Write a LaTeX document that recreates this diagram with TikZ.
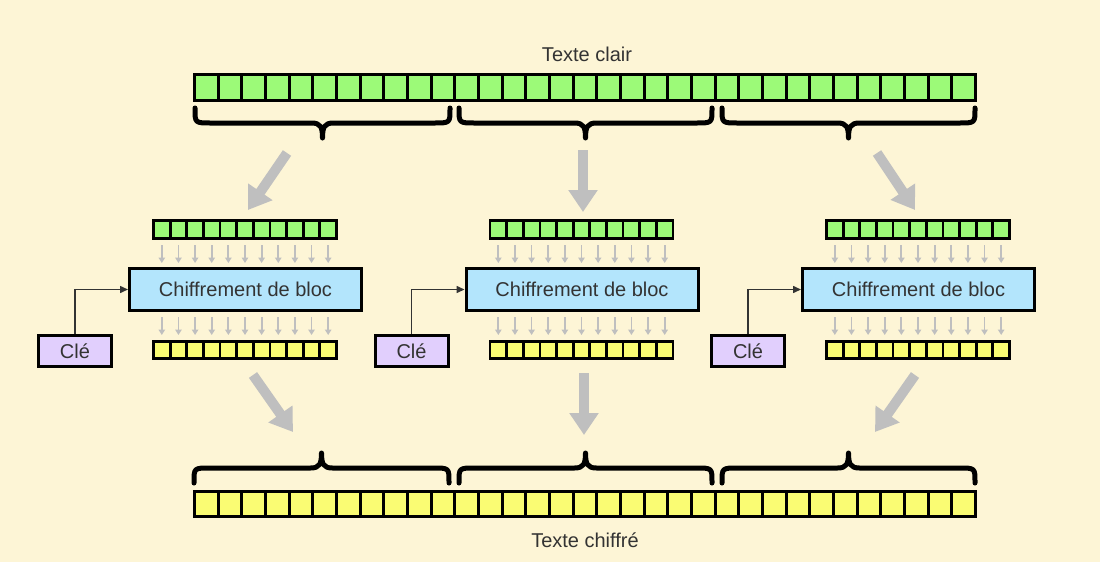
\documentclass[tikz,border=0pt]{standalone}
\usepackage{fontspec}
\setmainfont{Liberation Sans}
\usetikzlibrary{arrows.meta}
\definecolor{bg}{HTML}{FDF5D6}
\definecolor{cgreen}{HTML}{9CFA78}
\definecolor{cyellow}{HTML}{FAFC73}
\definecolor{cblue}{HTML}{B3E5FC}
\definecolor{cpurple}{HTML}{E1CFFD}
\definecolor{cgray}{HTML}{BFBFBF}
\definecolor{ctext}{HTML}{333333}
\tikzset{
  pics/hbrace/.style={code={
    \draw[line width=5pt,line join=round,line cap=round]
      (-#1,0) -- (-#1,1) .. controls (-#1,15) .. (-#1+16,15) -- (-11,15)
      .. controls (-2,15) and (0,19) .. (0,30)
      .. controls (0,19) and (2,15) .. (11,15) -- (#1-16,15)
      .. controls (#1,15) .. (#1,1) -- (#1,0);
  }}
}
\begin{document}
\begin{tikzpicture}[x=1pt,y=-1pt,
  barline/.style={draw=black,line width=3pt},
  sbarline/.style={draw=black,line width=2.8pt},
  lbl/.style={text=ctext,font=\fontsize{20}{24}\selectfont,inner sep=0pt},
  cipher/.style={draw=black,line width=3pt,fill=cblue,minimum width=232pt,minimum height=42pt,inner sep=0pt,text=ctext,font=\fontsize{20}{24}\selectfont},
  keybox/.style={draw=black,line width=3pt,fill=cpurple,minimum width=73pt,minimum height=31pt,inner sep=0pt,text=ctext,font=\fontsize{20}{24}\selectfont},
  bigarrow/.style={draw=cgray,line width=10pt,-{Triangle[width=28pt,length=22pt]}},
  smallarrow/.style={draw=cgray,line width=1.8pt,-{Triangle[width=6.5pt,length=5.5pt]}},
  keyline/.style={draw=ctext,line width=1.5pt,-{Triangle[width=7pt,length=8pt]}}
]
\useasboundingbox (0,0) rectangle (1100,562);
\fill[bg] (0,0) rectangle (1100,562);

% labels
\node[lbl,anchor=base] (tc) at (587,61) {Texte clair};
\node[lbl,anchor=base] (tch) at (585,547) {Texte chiffré};

% top plaintext bar
\filldraw[barline,fill=cgreen] (194.5,74.5) rectangle (975.5,100.5);
\foreach \i in {1,...,32}{
  \draw[barline] ({194.5+\i*23.6667},74.5) -- ({194.5+\i*23.6667},100.5);
}
% bottom ciphertext bar
\filldraw[barline,fill=cyellow] (194.5,491.5) rectangle (975.5,516.5);
\foreach \i in {1,...,32}{
  \draw[barline] ({194.5+\i*23.6667},491.5) -- ({194.5+\i*23.6667},516.5);
}

% braces
\pic at (322.5,108) {hbrace=127.5};
\pic at (585.5,108) {hbrace=126.5};
\pic at (848.5,108) {hbrace=126.5};
\pic[yscale=-1] at (321.5,483) {hbrace=127.5};
\pic[yscale=-1] at (585.5,483) {hbrace=126.5};
\pic[yscale=-1] at (848.5,483) {hbrace=126.5};

% blocks
\foreach \k/\off in {1/0,2/336.5,3/673}{
  \begin{scope}[xshift=\off]
    \filldraw[sbarline,fill=cgreen] (153.5,220.5) rectangle (336.5,238.5);
    \filldraw[sbarline,fill=cyellow] (153.5,341.5) rectangle (336.5,358.5);
    \foreach \i in {1,...,10}{
      \draw[sbarline] ({153.5+\i*16.636},220.5) -- ({153.5+\i*16.636},238.5);
      \draw[sbarline] ({153.5+\i*16.636},341.5) -- ({153.5+\i*16.636},358.5);
    }
    \foreach \i in {0,...,10}{
      \draw[smallarrow] ({153.5+(\i+0.5)*16.636},245) -- ({153.5+(\i+0.5)*16.636},263);
      \draw[smallarrow] ({153.5+(\i+0.5)*16.636},317) -- ({153.5+(\i+0.5)*16.636},335);
    }
    \node[cipher] (c\k) at (245.5,289.5) {Chiffrement de bloc};
    \node[keybox] (k\k) at (75,351) {Clé};
    \draw[keyline] (k\k.north) |- (c\k.west);
  \end{scope}
}

% big arrows
\coordinate (a1s) at (287,153); \coordinate (a1e) at (248,210);
\coordinate (a2s) at (583,150); \coordinate (a2e) at (583,212);
\coordinate (a3s) at (877,153); \coordinate (a3e) at (915,210);
\coordinate (b1s) at (253,375); \coordinate (b1e) at (293,432);
\coordinate (b2s) at (584,373); \coordinate (b2e) at (584,435);
\coordinate (b3s) at (915,375); \coordinate (b3e) at (875,432);
\foreach \n in {a1,a2,a3,b1,b2,b3}{
  \draw[bigarrow] (\n s) -- (\n e);
}
\end{tikzpicture}
\end{document}
